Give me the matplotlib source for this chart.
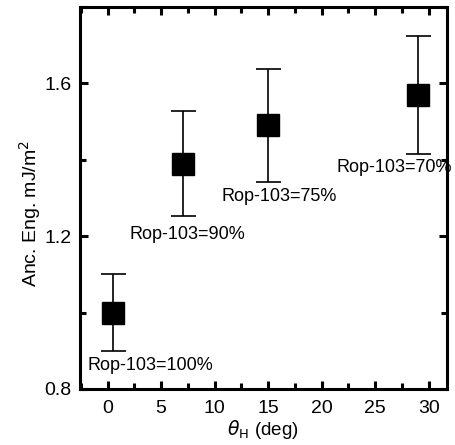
import matplotlib.pyplot as plt
from matplotlib.ticker import MultipleLocator

plt.rcParams['font.family'] = ['Liberation Sans', 'DejaVu Sans']

# data
theta_h = [0.5, 7.0, 15.0, 29.0]
anc_eng = [1.00, 1.39, 1.49, 1.57]
err = [0.10, 0.137, 0.148, 0.155]
labels = ['Rop-103=100%', 'Rop-103=90%', 'Rop-103=75%', 'Rop-103=70%']
label_x = [-1.9, 2.05, 10.65, 21.4]
label_y = [0.862, 1.205, 1.305, 1.381]

fig = plt.figure(figsize=(4.56, 4.45), dpi=100)
ax = fig.add_axes([0.175, 0.126, 0.805, 0.858])

ax.errorbar(theta_h, anc_eng, yerr=err, fmt='s', color='black',
            markersize=16, ecolor='black', elinewidth=1.2,
            capsize=9, capthick=1.2)

for lx, ly, t in zip(label_x, label_y, labels):
    ax.text(lx, ly, t, fontsize=13, va='center', ha='left')

ax.set_xlim(-2.6, 31.7)
ax.set_ylim(0.8, 1.8)
ax.xaxis.set_major_locator(MultipleLocator(5))
ax.xaxis.set_minor_locator(MultipleLocator(2.5))
ax.yaxis.set_major_locator(MultipleLocator(0.4))
ax.yaxis.set_minor_locator(MultipleLocator(0.2))

for s in ax.spines.values():
    s.set_linewidth(2.2)
ax.tick_params(which='both', direction='in', top=True, right=True,
               labelsize=14, width=2.2)
ax.tick_params(axis='y', pad=6)
ax.tick_params(axis='x', pad=8)
ax.tick_params(which='major', length=6)
ax.tick_params(which='minor', length=4)

ax.set_xlabel(r'$\theta_{\rm H}$ (deg)', fontsize=13.5, labelpad=1)
ax.set_ylabel('Anc. Eng. mJ/m$^2$', fontsize=14, labelpad=3)
ax.yaxis.set_label_coords(-0.1, 0.46)

fig.savefig('out.png', dpi=100)
